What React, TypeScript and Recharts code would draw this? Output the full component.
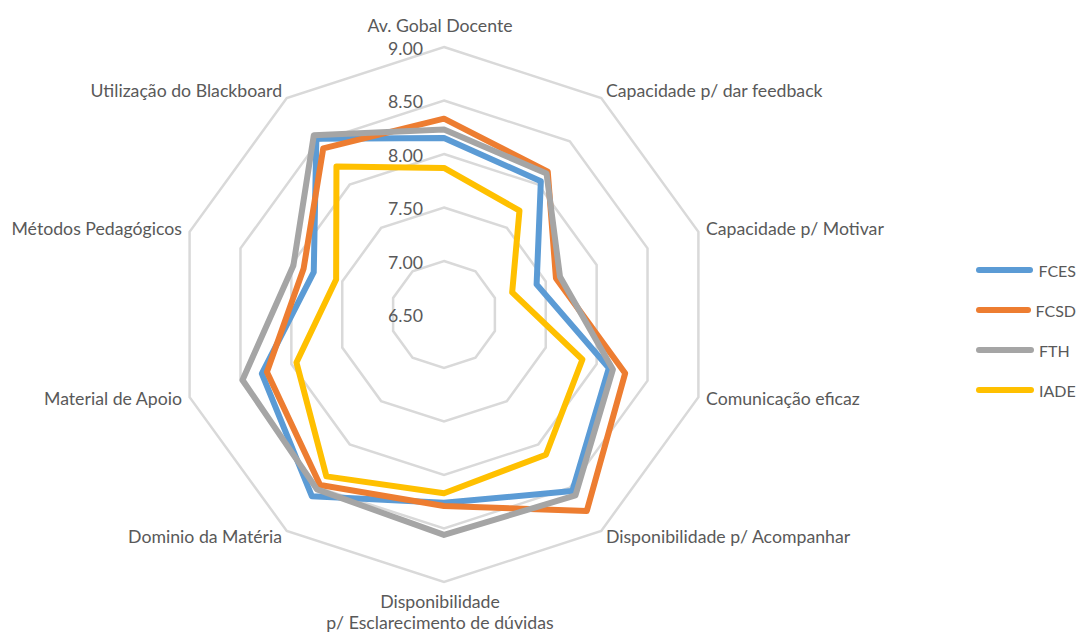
import React from 'react';
import { RadarChart, Radar, PolarGrid, PolarAngleAxis, PolarRadiusAxis, Legend } from 'recharts';

const categories = [
  'Av. Gobal Docente',
  'Capacidade p/ dar feedback',
  'Capacidade p/ Motivar',
  'Comunicação eficaz',
  'Disponibilidade p/ Acompanhar',
  'Disponibilidade\np/ Esclarecimento de dúvidas',
  'Dominio da Matéria',
  'Material de Apoio',
  'Métodos Pedagógicos',
  'Utilização do Blackboard',
];

const fces = [8.15, 8.04, 7.41, 8.12, 8.54, 8.26, 8.6, 8.29, 7.78, 8.53];
const fcsd = [8.33, 8.15, 7.6, 8.28, 8.77, 8.29, 8.47, 8.24, 7.88, 8.42];
const fth = [8.23, 8.13, 7.64, 8.16, 8.59, 8.56, 8.52, 8.48, 7.98, 8.57];
const iade = [7.87, 7.7, 7.17, 7.86, 8.12, 8.17, 8.37, 7.95, 7.56, 8.21];

const seriesNames = ['FCES', 'FCSD', 'FTH', 'IADE'];
const seriesColors = ['#5B9BD5', '#ED7D31', '#A5A5A5', '#FFC000'];
const radiusTicks = [6.5, 7, 7.5, 8, 8.5, 9];

const data = categories.map((category, i) => ({
  category,
  FCES: fces[i],
  FCSD: fcsd[i],
  FTH: fth[i],
  IADE: iade[i],
}));

const textColor = '#595959';
const fontSize = 17.7;

const AngleTick = (props: any) => {
  const { x, y, payload, textAnchor } = props;
  const lines = String(payload.value).split('\n');
  if (textAnchor === 'middle') {
    // top label sits above the vertex, bottom one hangs below it
    const top = y < 300;
    return (
      <text x={x - 4} y={top ? y - 14 : y + 11} textAnchor="middle" fill={textColor} fontSize={fontSize} dominantBaseline="central">
        {lines.map((l, i) => (
          <tspan key={i} x={x - 4} dy={i === 0 ? 0 : 21}>{l}</tspan>
        ))}
      </text>
    );
  }
  return (
    <text x={x} y={y - 1} textAnchor={textAnchor} fill={textColor} fontSize={fontSize} dominantBaseline="central">
      {lines[0]}
    </text>
  );
};

const RadiusTick = (props: any) => {
  const { x, y, payload } = props;
  return (
    <text x={x - 21} y={y + 1} textAnchor="end" fill={textColor} fontSize={fontSize} dominantBaseline="central">
      {Number(payload.value).toFixed(2)}
    </text>
  );
};

const LegendContent = () => (
  <div>
    {seriesNames.map((name, i) => (
      <div key={name} style={{ display: 'flex', alignItems: 'center', height: 40 }}>
        <div style={{ width: 58, height: 6, borderRadius: 3, background: seriesColors[i], marginRight: 5 }} />
        <span style={{ color: textColor, fontSize: 16 }}>{name}</span>
      </div>
    ))}
  </div>
);

export default function App() {
  return (
    <div style={{ width: 1079, height: 632, fontFamily: 'Lato, sans-serif', position: 'relative' }}>
      <style>{'body { margin: 0; overflow: hidden; }'}</style>
      <RadarChart
        width={1079}
        height={632}
        data={data}
        cx={444}
        cy={314.5}
        outerRadius={267.5}
        margin={{ top: 0, right: 0, bottom: 0, left: 0 }}
      >
        <PolarGrid gridType="polygon" radialLines={false} stroke="#D9D9D9" strokeWidth={2.5} />
        <PolarAngleAxis dataKey="category" tick={<AngleTick />} tickLine={false} axisLine={false} />
        <PolarRadiusAxis
          angle={90}
          domain={[6.5, 9]}
          ticks={radiusTicks as any}
          tickCount={6}
          tick={<RadiusTick />}
          axisLine={false}
          tickLine={false}
        />
        {seriesNames.map((name, i) => (
          <Radar
            key={name}
            name={name}
            dataKey={name}
            stroke={seriesColors[i]}
            strokeWidth={6}
            strokeLinejoin="round"
            fill="none"
            fillOpacity={0}
            dot={false}
            isAnimationActive={false}
          />
        ))}
        <Legend
          layout="vertical"
          align="right"
          verticalAlign="middle"
          content={<LegendContent />}
          wrapperStyle={{ left: 976, top: 250, width: 100 }}
        />
      </RadarChart>
    </div>
  );
}
